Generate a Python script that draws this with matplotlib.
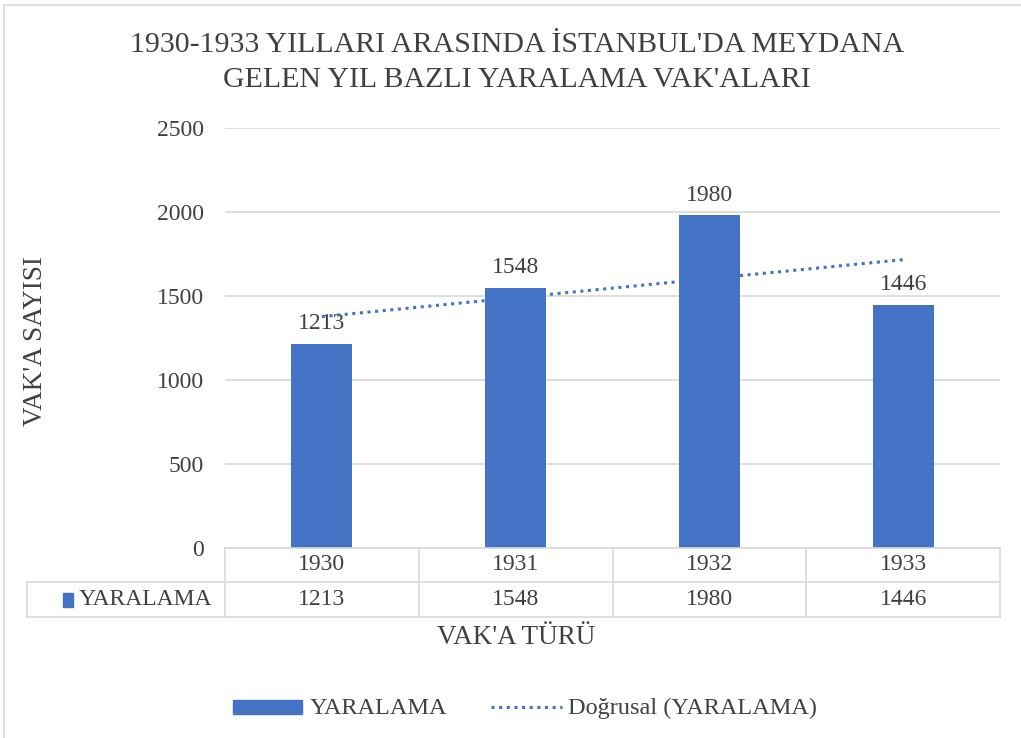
import matplotlib
matplotlib.use("Agg")
import matplotlib.pyplot as plt
import numpy as np
from matplotlib.lines import Line2D
from matplotlib.patches import Rectangle

years = ["1930", "1931", "1932", "1933"]
values = [1213, 1548, 1980, 1446]
series_name = "YARALAMA"
trend_name = "Doğrusal (YARALAMA)"
title_lines = ["1930-1933 YILLARI ARASINDA İSTANBUL'DA MEYDANA",
               "GELEN YIL BAZLI YARALAMA VAK'ALARI"]
xlabel = "VAK'A TÜRÜ"
ylabel = "VAK'A SAYISI"
yticks = [0, 500, 1000, 1500, 2000, 2500]

W, H = 1021, 738
BLUE = "#4472C4"
TXT = "#404040"
GRID = "#D9D9D9"
plt.rcParams['font.family'] = ['Liberation Serif', 'DejaVu Serif']

fig = plt.figure(figsize=(W / 100, H / 100), dpi=100)

def fx(px):
    return px / W

def fy(py):
    return 1 - py / H

# outer chart border
fig.patches.append(Rectangle((fx(4), fy(760)), fx(1040), fy(5) - fy(760),
                             transform=fig.transFigure, fill=False,
                             edgecolor=GRID, linewidth=1.2))

ax = fig.add_axes([fx(225), fy(548), fx(1000) - fx(225), fy(128) - fy(548)])
x = np.arange(len(years))
ax.bar(x, values, width=0.315, color=BLUE, zorder=3)
ax.set_xlim(-0.5, len(years) - 0.5)
ax.set_ylim(0, 2500)
ax.set_yticks(yticks)
ax.set_yticklabels([str(t) for t in yticks], fontsize=17, color=TXT)
ax.tick_params(axis='y', length=0, pad=15)
ax.set_xticks([])
for s in ax.spines.values():
    s.set_visible(False)
ax.grid(axis='y', color=GRID, linewidth=1.2, zorder=0)

for xi, v in zip(x, values):
    ax.annotate(str(v), (xi, v), xytext=(0, 7), textcoords='offset points',
                ha='center', va='bottom', fontsize=17, color=TXT)

# linear trendline
coef = np.polyfit(x + 1, values, 1)
tx = np.array([x[0], x[-1]])
ax.plot(tx, np.polyval(coef, tx + 1), linestyle=(0, (1, 1.5)), color=BLUE,
        linewidth=2.2, zorder=4)

# data table under the axis
row1_top, row1_bot, row2_bot = fy(548), fy(582), fy(617)
left_px = 27
lc = dict(color=GRID, linewidth=1.2)
inv = fig.transFigure.inverted()
def data_to_fig_x(xd):
    return inv.transform(ax.transData.transform((xd, 0)))[0]
col_edges = [data_to_fig_x(e) for e in np.arange(-0.5, len(years), 1.0)]
fig.add_artist(Line2D([col_edges[0], col_edges[-1]], [row1_top, row1_top], **lc))
fig.add_artist(Line2D([fx(left_px), col_edges[-1]], [row1_bot, row1_bot], **lc))
fig.add_artist(Line2D([fx(left_px), col_edges[-1]], [row2_bot, row2_bot], **lc))
for e in col_edges:
    fig.add_artist(Line2D([e, e], [row2_bot, row1_top], **lc))
fig.add_artist(Line2D([fx(left_px), fx(left_px)], [row2_bot, row1_bot], **lc))
for i, (yr, v) in enumerate(zip(years, values)):
    cx = (col_edges[i] + col_edges[i + 1]) / 2
    fig.text(cx, (row1_top + row1_bot) / 2, yr, ha='center', va='center',
             fontsize=17, color=TXT)
    fig.text(cx, (row1_bot + row2_bot) / 2, str(v), ha='center', va='center',
             fontsize=17, color=TXT)
fig.patches.append(Rectangle((fx(63), fy(607)), fx(10), fy(593) - fy(607),
                             transform=fig.transFigure, color=BLUE))
fig.text(fx(79), (row1_bot + row2_bot) / 2, series_name, ha='left', va='center',
         fontsize=17, color=TXT)

# title (two lines placed individually) and axis labels
for ty, line in zip([45, 80], title_lines):
    fig.text(fx(517), fy(ty), line, ha='center', va='center', fontsize=21.5,
             color=TXT)
fig.text(fx(516), fy(638), xlabel, ha='center', va='center', fontsize=19.5, color=TXT)
fig.text(fx(36), fy(341), ylabel, ha='center', va='center', rotation=90,
         fontsize=19.5, color=TXT)

# legend
fig.patches.append(Rectangle((fx(233), fy(714)), fx(302) - fx(233), fy(700) - fy(714),
                             transform=fig.transFigure, color=BLUE))
fig.text(fx(310), fy(708), series_name, ha='left', va='center', fontsize=17.5, color=TXT)
fig.add_artist(Line2D([fx(491), fx(562)], [fy(707), fy(707)], color=BLUE,
                      linestyle=(0, (1, 1.5)), linewidth=2.2))
fig.text(fx(568), fy(708), trend_name, ha='left', va='center', fontsize=17.5, color=TXT)

fig.savefig("out.png", dpi=100, facecolor='white')
